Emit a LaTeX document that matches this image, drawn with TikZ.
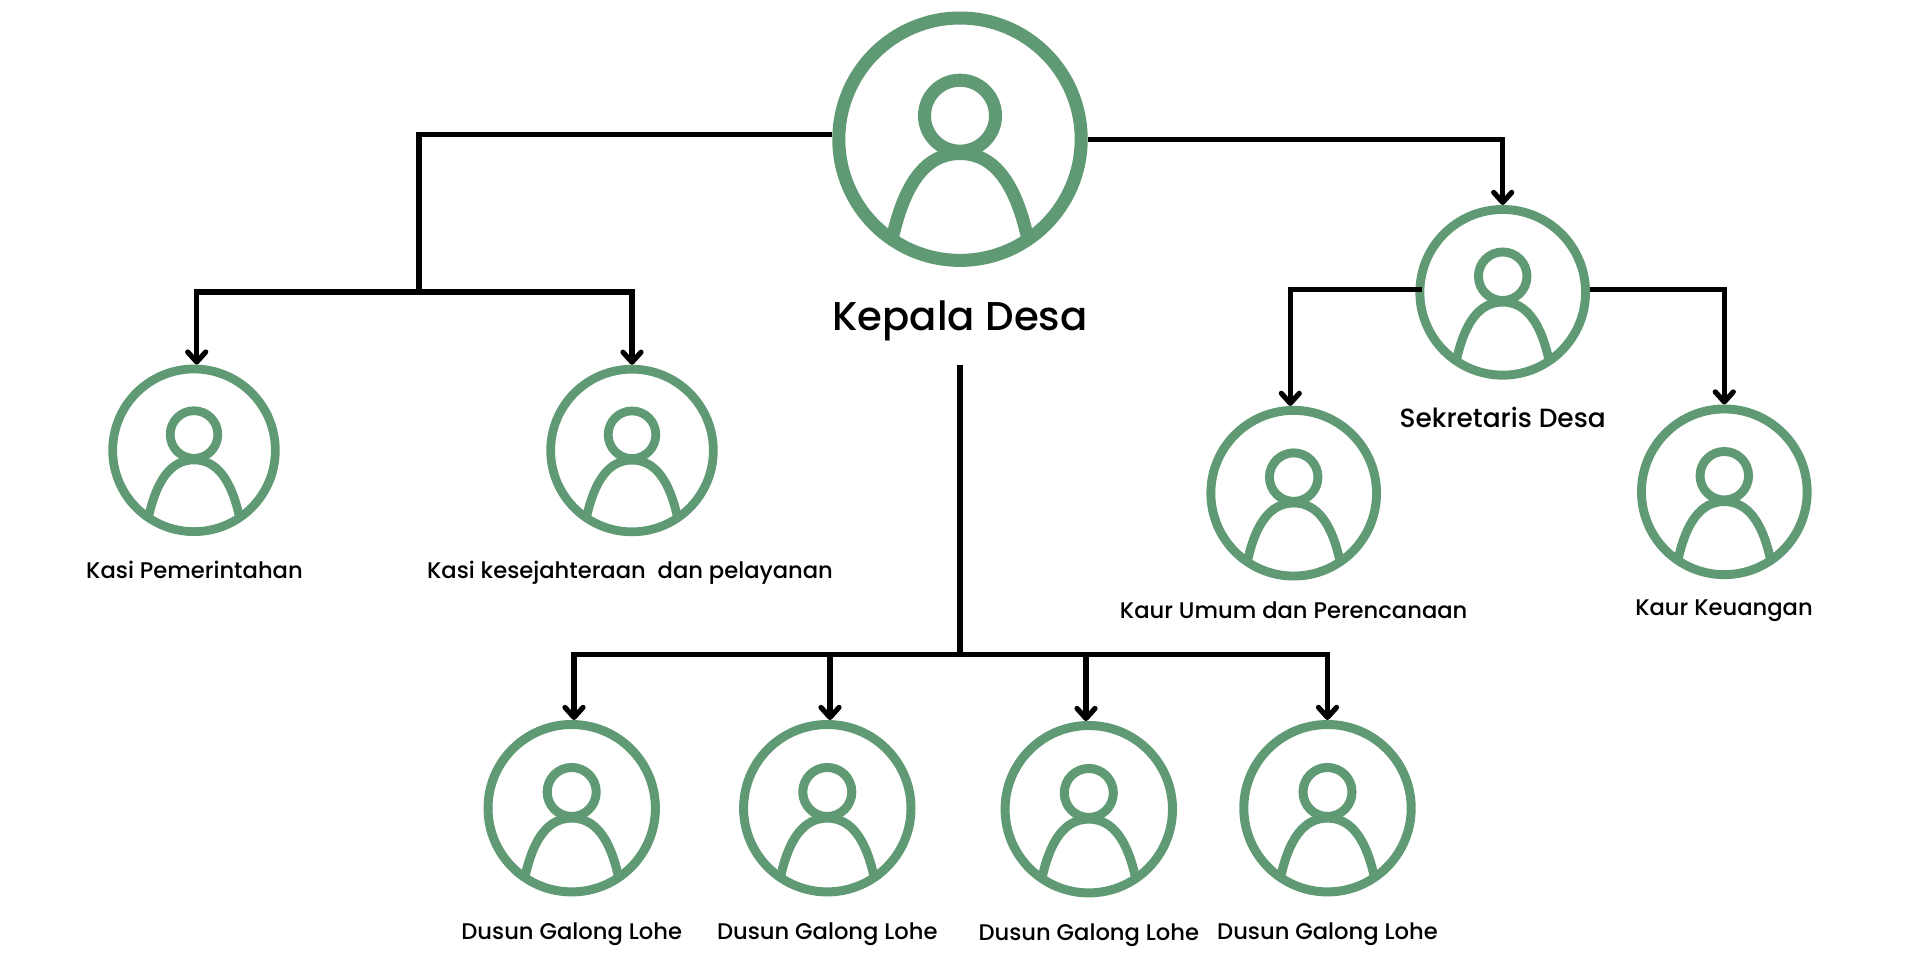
\documentclass[tikz,border=0pt]{standalone}
\usepackage{fontspec}
\setmainfont{Poppins Medium}
\usetikzlibrary{arrows.meta}
\definecolor{ringgreen}{HTML}{5F9A75}
\tikzset{
  ring/.style={circle,draw=ringgreen,fill=white,inner sep=0pt},
  figure/.style={draw=ringgreen,line cap=butt},
  link/.style={draw=black,line width=5.2pt,line join=miter},
  linkarrow/.style={link,-{Straight Barb[length=10pt,width=18pt,round]}},
  caption/.style={anchor=base,inner sep=0pt,font=\fontsize{22.65}{26}\selectfont,text=black},
  bigcaption/.style={anchor=base,inner sep=0pt,font=\fontsize{40.2}{44}\selectfont,text=black},
}
\newcommand{\person}[4]{%
  \node[ring,line width=#4*0.102pt,minimum size={2*#4*0.949pt}] (#1) at (#2,#3) {};
  \begin{scope}[shift={(#2,#3)},x=#4pt,y=-#4pt,line width=#4*0.102pt]
    \draw[figure] (0,-.184) circle[radius=.278];
    \draw[figure] (-.535,.80) .. controls (-.44,.35) and (-.27,.112) .. (0,.112)
                  .. controls (.27,.112) and (.44,.35) .. (.535,.80);
  \end{scope}}
\begin{document}
\begin{tikzpicture}[x=1pt,y=-1pt]
\useasboundingbox (0,0) rectangle (1920,969);
\person{kd}{960}{139.2}{127.7}
\person{ks1}{194}{450.3}{85.7}
\person{ks2}{632}{450.5}{85.7}
\person{sd}{1502.7}{292.3}{87.3}
\person{ku}{1293.7}{493.2}{87.3}
\person{kk}{1724.3}{491.8}{87.3}
\person{d1}{571.7}{808.2}{88.2}
\person{d2}{827.3}{808.2}{88.2}
\person{d3}{1088.8}{809.2}{88.2}
\person{d4}{1327.5}{808.2}{88.2}

\node[bigcaption] (lkd) at (960,330.6) {Kepala Desa};
\node[caption] (lks1) at (194.5,578.8) {Kasi Pemerintahan};
\node[caption] (lks2) at (630,578.8) {Kasi kesejahteraan\ \ dan pelayanan};
\node[caption,font=\fontsize{26.4}{30}\selectfont] (lsd) at (1502.7,427.3) {Sekretaris Desa};
\node[caption] (lku) at (1293.7,618.8) {Kaur Umum dan Perencanaan};
\node[caption] (lkk) at (1724,615.8) {Kaur Keuangan};
\node[caption] (ld1) at (571.7,939.3) {Dusun Galong Lohe};
\node[caption] (ld2) at (827.3,939.3) {Dusun Galong Lohe};
\node[caption] (ld3) at (1088.8,940.3) {Dusun Galong Lohe};
\node[caption] (ld4) at (1327.5,939.3) {Dusun Galong Lohe};

\coordinate (kasi) at (419,292);
\coordinate (stem) at (960,365);
\coordinate (hub) at (960,654.5);

\draw[link] (kd.178) -| (kasi);
\draw[linkarrow] (kasi) -| ([xshift=2.7pt]ks1.north);
\draw[linkarrow] (kasi) -| (ks2.north);
\draw[linkarrow] (kd.east) -| (sd.north);
\draw[linkarrow] ([xshift=6.4pt,yshift=2.6pt]sd.west) -| ([xshift=-3.4pt]ku.north);
\draw[linkarrow] ([yshift=2.6pt]sd.east) -| (kk.north);
\draw[link] (stem) -- (hub);
\draw[linkarrow] (hub) -| ([xshift=2.3pt]d1.north);
\draw[linkarrow] (hub) -| ([xshift=2.7pt]d2.north);
\draw[linkarrow] (hub) -| ([xshift=-2.8pt]d3.north);
\draw[linkarrow] (hub) -| (d4.north);
\end{tikzpicture}
\end{document}
